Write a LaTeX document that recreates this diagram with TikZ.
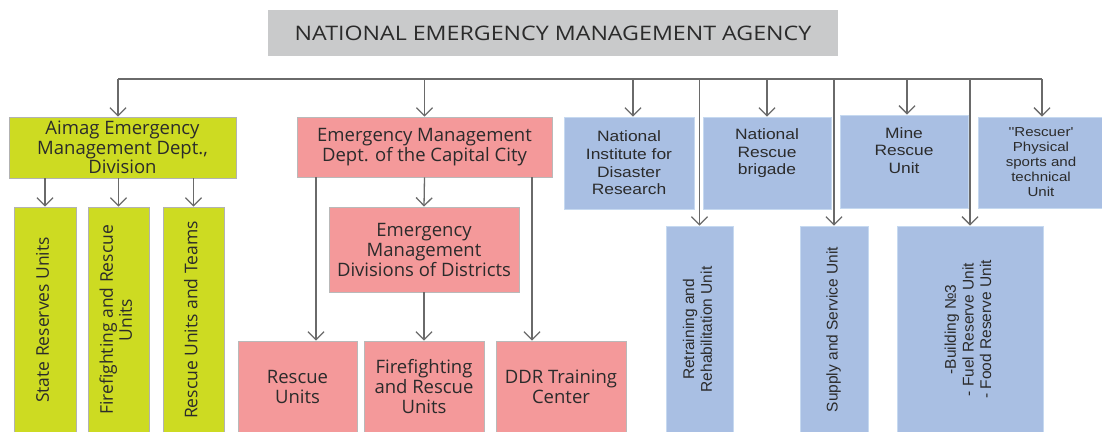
\documentclass[tikz,border=0pt]{standalone}
\usepackage{fontspec}
\usepackage{graphicx}
\setmainfont{Open Sans}
\newfontfamily\arialf[FakeStretch=1.16]{Liberation Sans}
\newfontfamily\arialv{Liberation Sans}
\newfontfamily\titlef[FakeStretch=1.16]{Open Sans}
\usetikzlibrary{arrows.meta}
\definecolor{titlec}{HTML}{C9CACB}
\definecolor{greenc}{HTML}{CDDB22}
\definecolor{pinkc}{HTML}{F4999A}
\definecolor{bluec}{HTML}{A9BFE3}
\definecolor{blueb}{HTML}{C6D9F0}
\definecolor{linec}{HTML}{6A6A6A}
\definecolor{txtc}{HTML}{2B2B2B}
\tikzset{
  box/.style={rectangle, inner sep=0pt, align=center, text=txtc},
  greenbox/.style={box, fill=greenc, draw=gray!60, line width=0.8pt,
    font=\fontsize{18.5}{20}\selectfont},
  pinkbox/.style={box, fill=pinkc, draw=gray!55, line width=0.8pt,
    font=\fontsize{18.5}{20}\selectfont},
  bluebox/.style={box, fill=bluec, draw=blueb, line width=0.8pt,
    font=\arialf\fontsize{15}{17.6}\selectfont},
  bluevbox/.style={bluebox, font=\arialv\fontsize{15.5}{17.6}\selectfont},
  conn/.style={draw=linec, line width=1.3pt},
  arr/.style={conn, -{Straight Barb[length=8pt,width=16pt,line width=1.3pt]}},
}
\newcommand{\vtext}[1]{\rotatebox{90}{\begin{tabular}{@{}c@{}}#1\end{tabular}}}
\begin{document}
\begin{tikzpicture}[x=1pt,y=-1pt]
\useasboundingbox (0,0) rectangle (1102,431);
% title
\node[box, fill=titlec, minimum width=570, minimum height=46,
  font=\titlef\fontsize{20}{22}\selectfont] (title) at (553,33) {NATIONAL EMERGENCY MANAGEMENT AGENCY};
% green branch
\node[greenbox, minimum width=227, minimum height=61] (aimag) at (122.5,147.5)
  {Aimag Emergency\\Management Dept.,\\[-1pt]Division};
\node[greenbox, minimum width=62, minimum height=226] (s1) at (45,320)
  {\fontsize{17.5}{19}\selectfont\vtext{State Reserves Units}};
\node[greenbox, minimum width=61, minimum height=226] (s2) at (118.5,320)
  {\fontsize{17.5}{19}\selectfont\vtext{Firefighting and Rescue\\Units}};
\node[greenbox, minimum width=61, minimum height=226] (s3) at (193.5,320)
  {\fontsize{17.5}{19}\selectfont\vtext{Rescue Units and Teams}};
% pink branch
\node[pinkbox, minimum width=255, minimum height=60] (cap) at (424.5,147)
  {Emergency Management\\Dept. of the Capital City};
\node[pinkbox, minimum width=190, minimum height=85] (dist) at (424,249.5)
  {Emergency\\Management\\Divisions of Districts};
\node[pinkbox, minimum width=119, minimum height=92] (ru) at (297.5,387)
  {Rescue\\Units};
\node[pinkbox, minimum width=120, minimum height=92] (ff) at (424,387)
  {Firefighting\\and Rescue\\Units};
\node[pinkbox, minimum width=130, minimum height=92] (ddr) at (561,387)
  {DDR Training\\Center};
% blue top
\node[bluebox, minimum width=130, minimum height=92] (ni) at (629,163)
  {National\\Institute for\\Disaster\\Research};
\node[bluebox, minimum width=128, minimum height=92] (nrb) at (767,163)
  {National\\Rescue\\brigade\\[5pt]};
\node[bluebox, minimum width=128, minimum height=93] (mine) at (904,161.5)
  {Mine\\Rescue\\Unit\\[5pt]};
\node[bluebox, minimum width=126, minimum height=91, font=\arialf\fontsize{13}{15}\selectfont] (resc) at (1041,162.5)
  {''Rescuer'\\Physical\\sports and\\technical\\Unit};
% blue lower
\node[bluevbox, minimum width=67, minimum height=207] (ret) at (699.5,329.5)
  {\vtext{Retraining and\\Rehabilitation Unit}};
\node[bluevbox, minimum width=68, minimum height=207] (sup) at (834,329.5)
  {\vtext{Supply and Service Unit}};
\node[bluevbox, minimum width=146, minimum height=207] (bld) at (970,329.5)
  {\vtext{-Building №3\\- Fuel Reserve Unit\\- Food Reserve Unit}};
% bus
\coordinate (busL) at (118,79);
\coordinate (busR) at (1042,79);
\draw[conn] (busL) -- (busR);
\draw[arr] (busL) -- (busL |- aimag.north);
\draw[arr] (cap.north |- busL) -- (cap.north);
\draw[arr] (633,79) coordinate (bni) -- (bni |- ni.north);
\draw[arr] (nrb.north |- busL) -- (nrb.north);
\draw[arr] (907,79) coordinate (bmine) -- (bmine |- mine.north);
\draw[arr] (busR) -- (busR |- resc.north);
\draw[arr] (ret.north |- busL) -- (ret.north);
\draw[arr] (sup.north |- busL) -- (sup.north);
\draw[arr] (bld.north |- busL) -- (bld.north);
% green sub arrows
\draw[arr] (s1.north |- aimag.south) -- (s1.north);
\draw[arr] (s2.north |- aimag.south) -- (s2.north);
\draw[arr] (s3.north |- aimag.south) -- (s3.north);
% pink arrows
\coordinate (cL) at (316,177);
\coordinate (cR) at (532,177);
\draw[arr] (cL) -- (cL |- ru.north);
\draw[arr] (cap.south) -- (dist.north);
\draw[arr] (cR) -- (cR |- ddr.north);
\draw[arr] (dist.south) -- (ff.north);
\end{tikzpicture}
\end{document}
